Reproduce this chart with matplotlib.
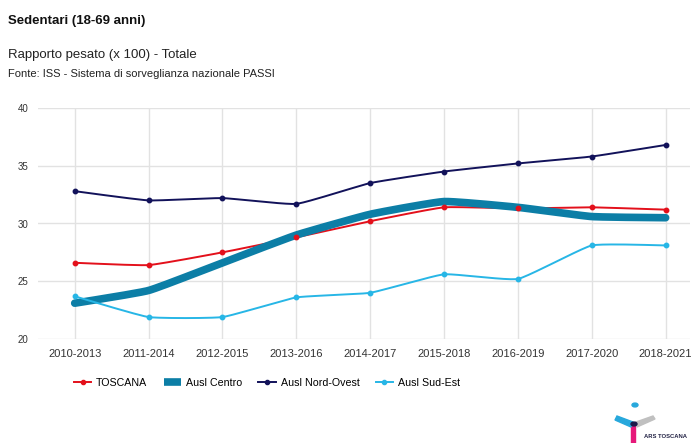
import numpy as np
import matplotlib
matplotlib.use("Agg")
import matplotlib.pyplot as plt
from matplotlib.lines import Line2D
from matplotlib.patches import Circle, Polygon, Rectangle

periods = ["2010-2013", "2011-2014", "2012-2015", "2013-2016", "2014-2017",
           "2015-2018", "2016-2019", "2017-2020", "2018-2021"]
toscana = [26.6, 26.4, 27.5, 28.8, 30.2, 31.4, 31.3, 31.4, 31.2]
centro = [23.1, 24.2, 26.6, 29.0, 30.8, 31.9, 31.4, 30.6, 30.5]
nord_ovest = [32.8, 32.0, 32.2, 31.7, 33.5, 34.5, 35.2, 35.8, 36.8]
sud_est = [23.7, 21.9, 21.9, 23.6, 24.0, 25.6, 25.2, 28.1, 28.1]
y_ticks = [20, 25, 30, 35, 40]

series = [
    ("TOSCANA", toscana, "#e3101b", 1.4, 3.2),
    ("Ausl Centro", centro, "#0c7ea6", 5.5, 0),
    ("Ausl Nord-Ovest", nord_ovest, "#12125a", 1.4, 3.2),
    ("Ausl Sud-Est", sud_est, "#27b6e6", 1.4, 3.2),
]


def smooth(x, y, n=20, tension=0.2):
    """Cardinal-spline curve through the given points."""
    x = np.asarray(x, float)
    y = np.asarray(y, float)
    px = np.concatenate([[x[0]], x, [x[-1]]])
    py = np.concatenate([[y[0]], y, [y[-1]]])
    xs, ys = [], []
    for i in range(1, len(px) - 2):
        t = np.linspace(0, 1, n, endpoint=False)
        m1x = (px[i + 1] - px[i - 1]) * tension
        m2x = (px[i + 2] - px[i]) * tension
        m1y = (py[i + 1] - py[i - 1]) * tension
        m2y = (py[i + 2] - py[i]) * tension
        h00 = 2 * t**3 - 3 * t**2 + 1
        h10 = t**3 - 2 * t**2 + t
        h01 = -2 * t**3 + 3 * t**2
        h11 = t**3 - t**2
        xs.append(h00 * px[i] + h10 * m1x + h01 * px[i + 1] + h11 * m2x)
        ys.append(h00 * py[i] + h10 * m1y + h01 * py[i + 1] + h11 * m2y)
    xs.append([x[-1]])
    ys.append([y[-1]])
    return np.concatenate(xs), np.concatenate(ys)


fig = plt.figure(figsize=(6.91, 4.43), dpi=100)
plt.rcParams["font.family"] = ["Liberation Sans", "DejaVu Sans"]

W, H = 691, 443
ax = fig.add_axes([38 / W, 1 - 339 / H, (690 - 38) / W, (339 - 108) / H])

xpos = np.arange(len(periods))
for label, vals, color, lw, ms in series:
    sx, sy = smooth(xpos, vals)
    ax.plot(sx, sy, color=color, lw=lw, solid_capstyle="round", zorder=3)
    if ms:
        ax.plot(xpos, vals, "o", color=color, ms=ms, zorder=4)

ax.set_xlim(-0.497, 8.33)
ax.set_ylim(20, 40)
ax.set_yticks(y_ticks)
ax.set_xticks(xpos)
ax.set_xticklabels(periods, fontsize=8, color="#333333")
ax.set_yticklabels([str(v) for v in y_ticks], fontsize=7, color="#333333")
ax.tick_params(length=0)
ax.tick_params(axis="y", pad=7)
ax.tick_params(axis="x", pad=7)
ax.grid(True, color="#e2e2e2", lw=1)
ax.set_axisbelow(True)
for s in ax.spines.values():
    s.set_visible(False)

handles = [
    Line2D([0], [0], color="#e3101b", lw=1.4, marker="o", ms=3),
    Line2D([0], [0], color="#0c7ea6", lw=5.5, solid_capstyle="butt"),
    Line2D([0], [0], color="#12125a", lw=1.4, marker="o", ms=3),
    Line2D([0], [0], color="#27b6e6", lw=1.4, marker="o", ms=3),
]
fig.legend(handles, [s[0] for s in series], loc="center",
           bbox_to_anchor=(267 / W, 1 - 383 / H), ncol=4, frameon=False,
           prop={"size": 7.7}, handlelength=1.65, columnspacing=1.5,
           handletextpad=0.45)

fig.text(8 / W, 1 - 21 / H, "Sedentari (18-69 anni)", fontsize=9.5,
         fontweight="bold", color="#111111", va="center")
fig.text(8 / W, 1 - 55 / H, "Rapporto pesato (x 100) - Totale", fontsize=9.5,
         color="#222222", va="center")
fig.text(8 / W, 1 - 74 / H, "Fonte: ISS - Sistema di sorveglianza nazionale PASSI",
         fontsize=8, color="#222222", va="center")


# ARS Toscana logo
def fx(px):
    return px / W


def fy(py):
    return 1 - py / H


fig.patches.append(Rectangle((fx(631), fy(443)), fx(4), 17 / H,
                             transform=fig.transFigure, color="#e6197a"))
fig.patches.append(Polygon([(fx(615), fy(420)), (fx(617), fy(416)),
                            (fx(633), fy(422)), (fx(631), fy(427))],
                           closed=True, transform=fig.transFigure, color="#27a8dc"))
fig.patches.append(Polygon([(fx(636), fy(422)), (fx(653), fy(416)),
                            (fx(655), fy(419)), (fx(637), fy(427))],
                           closed=True, transform=fig.transFigure, color="#c0c0c0"))
fig.patches.append(Circle((fx(634), fy(424)), 3 / W,
                          transform=fig.transFigure, color="#1a1a4a"))
fig.patches.append(Circle((fx(635), fy(405)), 3 / W,
                          transform=fig.transFigure, color="#27a8dc"))
fig.text(fx(644), fy(437), "ARS TOSCANA", fontsize=4.2, color="#222244",
         va="center", fontweight="bold")

fig.savefig("out.png", dpi=100)
